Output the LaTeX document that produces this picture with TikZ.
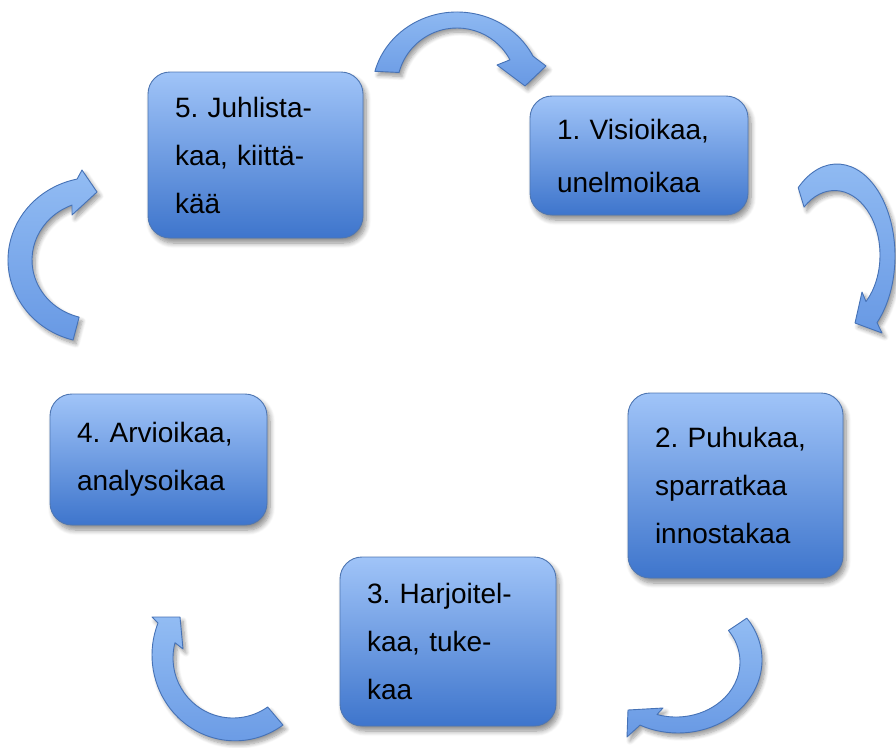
\documentclass[tikz,border=0pt]{standalone}
\usepackage{fontspec}
\setmainfont{Liberation Sans}
\usetikzlibrary{calc,shadows.blur}
\frenchspacing
\definecolor{boxtop}{RGB}{160,196,248}
\definecolor{boxbot}{RGB}{62,117,204}
\definecolor{boxline}{RGB}{78,118,178}
\definecolor{arrtop}{RGB}{146,188,243}
\definecolor{arrbot}{RGB}{104,153,228}
\definecolor{arrline}{RGB}{70,114,182}
\tikzset{
  stepbox/.style={rectangle, rounded corners=22pt, draw=boxline, line width=0.9pt,
    top color=boxtop, bottom color=boxbot, align=left, inner xsep=27pt, inner ysep=0pt,
    font=\fontsize{28}{48}\selectfont,
    blur shadow={shadow xshift=3pt, shadow yshift=-5pt, shadow blur steps=8, shadow blur radius=5pt, shadow opacity=45}},
  cyc/.style={draw=arrline, line width=0.9pt, line join=round, top color=arrtop, bottom color=arrbot,
    blur shadow={shadow xshift=3pt, shadow yshift=-4pt, shadow blur steps=8, shadow blur radius=4pt, shadow opacity=40}}
}
\begin{document}
\begin{tikzpicture}[x=1pt,y=-1pt]
\useasboundingbox (0,0) rectangle (896,747);
% boxes
\node[stepbox, minimum width=215pt, minimum height=166pt, text width=161pt] (b5) at (255.5,155) {5. Juhlista-\\kaa, kiittä-\\kää};
\node[stepbox, minimum width=218pt, minimum height=119pt, text width=164pt, font=\fontsize{28}{53}\selectfont] (b1) at (639,155.5) {1. Visioikaa,\\unelmoikaa};
\node[stepbox, minimum width=215pt, minimum height=185pt, text width=161pt] (b2) at (735.5,485.5) {2. Puhukaa,\\sparratkaa\\innostakaa};
\node[stepbox, minimum width=216pt, minimum height=169pt, text width=162pt] (b3) at (448,641.5) {3. Harjoitel-\\kaa, tuke-\\kaa};
\node[stepbox, minimum width=217pt, minimum height=131pt, text width=163pt] (b4) at (158.5,459.5) {4. Arvioikaa,\\analysoikaa};
% arrow centres
\coordinate (Ao) at (457,92);  \coordinate (Ai) at (457,88);
\coordinate (Bo) at (837,256); \coordinate (Bi) at (834.5,255);
\coordinate (Co) at (678,660); \coordinate (Ci) at (676,662);
\coordinate (Do) at (235,655); \coordinate (Di) at (233,658);
\coordinate (Eo) at (95,260);  \coordinate (Ei) at (95,260);
% A: 5 -> 1
\path[cyc] ($(Ao)+(195:85 and 80)$) arc[start angle=195, end angle=333.4, x radius=85, y radius=80]
  -- (546,66) -- (525,86) -- (497,65) -- ($(Ai)+(332:60 and 60)$)
  arc[start angle=332, end angle=195, x radius=60, y radius=60] -- cycle;
% B: 1 -> 2
\path[cyc] ($(Bo)+(-132:58 and 92)$) arc[start angle=-132, end angle=46.4, x radius=58, y radius=92]
  -- (882,333) -- (855,323) -- (862,292) -- ($(Bi)+(46.2:45.5 and 64.5)$)
  arc[start angle=46.2, end angle=-132, x radius=45.5, y radius=64.5] -- cycle;
% C: 2 -> 3
\path[cyc] ($(Co)+(-35:84 and 73)$) arc[start angle=-35, end angle=116.9, x radius=84, y radius=73]
  -- (627,737) -- (628,710) -- (663,708) -- ($(Ci)+(107.3:64 and 55)$)
  arc[start angle=107.3, end angle=-35, x radius=64, y radius=55] -- cycle;
% D: 3 -> 4
\path[cyc] ($(Do)+(54.7:83 and 85.8)$) arc[start angle=54.7, end angle=201.9, x radius=83, y radius=85.8]
  -- (152,617) -- (180,617) -- (183,649) -- ($(Di)+(194.8:60 and 60)$)
  arc[start angle=194.8, end angle=54.7, x radius=60, y radius=60] -- cycle;
% E: 4 -> 5
\path[cyc] ($(Eo)+(104.6:87 and 82.7)$) arc[start angle=104.6, end angle=258.1, x radius=87, y radius=82.7]
  -- (82,170) -- (97,192) -- (72,215) -- ($(Ei)+(248.6:63 and 59)$)
  arc[start angle=248.6, end angle=104.6, x radius=63, y radius=59] -- cycle;
\end{tikzpicture}
\end{document}
